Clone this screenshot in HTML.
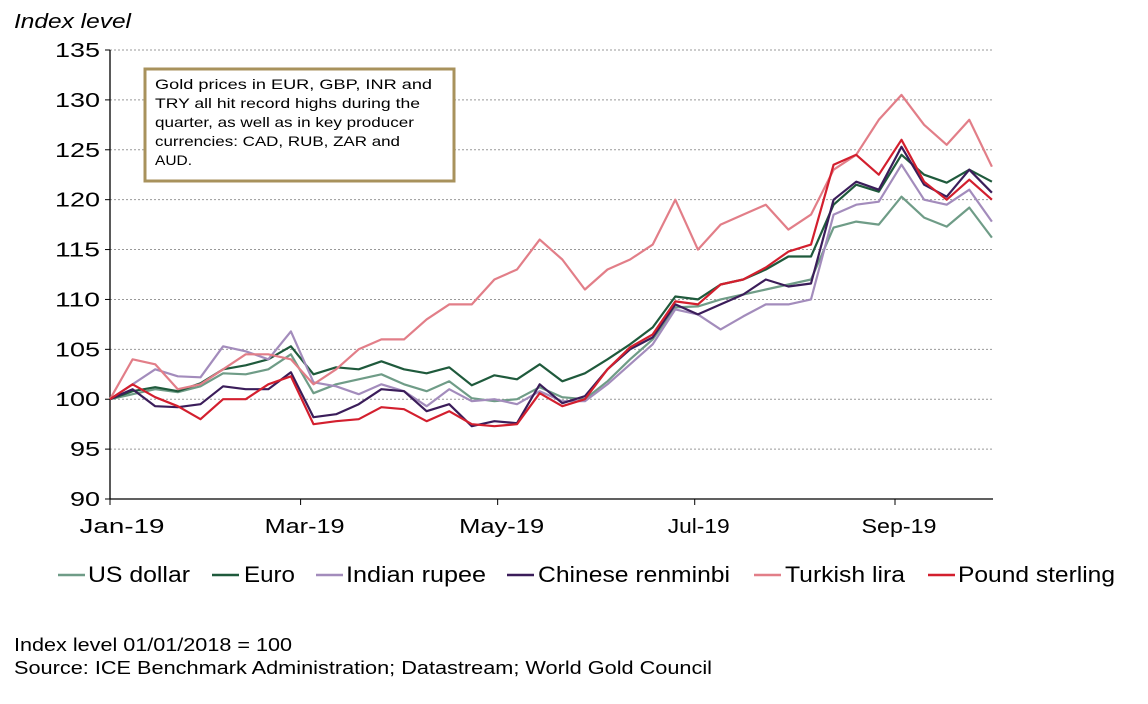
<!DOCTYPE html>
<html><head><meta charset="utf-8"><style>
body{margin:0;background:#fff;width:1148px;height:704px;overflow:hidden;font-family:"Liberation Sans",Arial,sans-serif}
svg{position:absolute;left:0;top:0}
text{font-family:"Liberation Sans",Arial,sans-serif}
</style></head><body>
<svg id="chart" width="1148" height="704" viewBox="0 0 1148 704">
<text x="14" y="28" font-size="20" font-style="italic" fill="#000" textLength="117" lengthAdjust="spacingAndGlyphs">Index level</text>
<g id="grid"></g><g id="axes"></g><g id="series"></g>
<g>
<rect x="145" y="69" width="309" height="112" fill="#fff" stroke="#a8925c" stroke-width="3"/>
<text font-size="14" fill="#000" lengthAdjust="spacingAndGlyphs"><tspan x="155" y="89" textLength="277" lengthAdjust="spacingAndGlyphs">Gold prices in EUR, GBP, INR and</tspan><tspan x="155" y="108" textLength="265" lengthAdjust="spacingAndGlyphs">TRY all hit record highs during the</tspan><tspan x="155" y="127" textLength="259" lengthAdjust="spacingAndGlyphs">quarter, as well as in key producer</tspan><tspan x="155" y="146" textLength="245" lengthAdjust="spacingAndGlyphs">currencies: CAD, RUB, ZAR and</tspan><tspan x="155" y="165" textLength="37" lengthAdjust="spacingAndGlyphs">AUD.</tspan></text>
</g>
<g id="legend"></g>
<text x="14" y="651" font-size="18" fill="#000" textLength="278" lengthAdjust="spacingAndGlyphs">Index level 01/01/2018 = 100</text>
<text x="14" y="674" font-size="18" fill="#000" textLength="698" lengthAdjust="spacingAndGlyphs">Source: ICE Benchmark Administration; Datastream; World Gold Council</text>
</svg>
<script>
const days=[0,7,14,21,28,35,42,49,56,63,70,77,84,91,98,105,112,119,126,133,140,147,154,161,168,175,182,189,196,203,210,217,224,231,238,245,252,259,266,273];
const yTicks=[90,95,100,105,110,115,120,125,130,135];
const xTickLabels=["Jan-19","Mar-19","May-19","Jul-19","Sep-19"];
const xTickDays=[0,59,120,181,243];
const seriesNames=["US dollar","Euro","Indian rupee","Chinese renminbi","Turkish lira","Pound sterling"];
const usd=[100,100.5,101,100.7,101.3,102.6,102.5,103,104.5,100.6,101.5,102,102.5,101.5,100.8,101.8,100.1,99.8,100,101.2,100.2,100,101.8,104,106,109.2,109.3,110,110.5,111,111.5,112,117.2,117.8,117.5,120.3,118.2,117.3,119.2,116.2];
const eur=[100,100.8,101.2,100.8,101.6,103,103.4,104,105.3,102.5,103.2,103,103.8,103,102.6,103.2,101.4,102.4,102,103.5,101.8,102.6,104,105.5,107.2,110.3,110,111.5,112,113,114.3,114.3,119.5,121.5,120.8,124.5,122.5,121.7,123,121.8];
const inr=[100,101.5,103,102.3,102.2,105.3,104.8,104,106.8,101.7,101.3,100.5,101.5,100.8,99.3,101,99.8,100,99.5,100.8,99.8,99.8,101.5,103.5,105.5,109,108.5,107,108.3,109.5,109.5,110,118.5,119.5,119.8,123.5,120,119.5,121,117.8];
const cny=[100,101,99.3,99.2,99.5,101.3,101,101,102.7,98.2,98.5,99.5,101,100.8,98.8,99.5,97.3,97.8,97.6,101.5,99.6,100.3,103,105,106.2,109.5,108.5,109.5,110.5,112,111.3,111.6,120,121.8,121,125.3,121.5,120.3,123,120.7];
const tryl=[100,104,103.5,101,101.5,103,104.5,104.5,104,101.5,103,105,106,106,108,109.5,109.5,112,113,116,114,111,113,114,115.5,120,115,117.5,118.5,119.5,117,118.5,123,124.5,128,130.5,127.5,125.5,128,123.3];
const gbp=[100,101.5,100.2,99.3,98,100,100,101.5,102.3,97.5,97.8,98,99.2,99,97.8,98.8,97.5,97.3,97.5,100.6,99.3,100,103,105.2,106.5,109.8,109.5,111.5,112,113.2,114.8,115.5,123.5,124.5,122.5,126,121.8,120,122,120];
const colors=["#6f9c87","#1f5a3c","#a38cbc","#3b1d5a","#e27e88","#d31f2e"];
const allSeries=[usd,eur,inr,cny,tryl,gbp];
const NS="http://www.w3.org/2000/svg";
const X0=110,X1=993,Y0=499,Y1=50;
const xs=d=>X0+(d/243)*(895-X0);
const ys=v=>Y0-(v-90)/45*(Y0-Y1);
function mk(tag,attrs,parent){const e=document.createElementNS(NS,tag);for(const k in attrs)e.setAttribute(k,attrs[k]);parent.appendChild(e);return e;}
const grid=document.getElementById('grid'),axes=document.getElementById('axes'),ser=document.getElementById('series'),leg=document.getElementById('legend');
yTicks.forEach(v=>{
 if(v>90){const l=mk('line',{x1:X0,x2:X1,y1:ys(v),y2:ys(v),stroke:'#999','stroke-width':1,'stroke-dasharray':'2,2'},grid);
 
 }
 mk('line',{x1:X0-5,x2:X0,y1:ys(v),y2:ys(v),stroke:'#000','stroke-width':1},axes);
 const w=String(v).length*15;
 const t=mk('text',{x:X0-10,y:ys(v)+7,'text-anchor':'end','font-size':20,fill:'#000',textLength:w,lengthAdjust:'spacingAndGlyphs'},axes);t.textContent=v;
 
 
});
const ya=mk('line',{x1:X0,x2:X0,y1:Y1,y2:Y0,stroke:'#000','stroke-width':1.3},axes);


const xa=mk('line',{x1:X0,x2:X1,y1:Y0,y2:Y0,stroke:'#000','stroke-width':1.3},axes);


const xLabW=[85,80,85,62,75];
xTickDays.forEach((d,i)=>{
 mk('line',{x1:xs(d),x2:xs(d),y1:Y0,y2:Y0+6,stroke:'#000','stroke-width':1},axes);
 const cx=i===0?122:xs(d)+4;
 const t=mk('text',{x:cx-xLabW[i]/2,y:Y0+34,'font-size':20,fill:'#000',textLength:xLabW[i],lengthAdjust:'spacingAndGlyphs'},axes);t.textContent=xTickLabels[i];
 
 
});
allSeries.forEach((vals,i)=>{
 const p=mk('polyline',{points:vals.map((v,j)=>xs(days[j]).toFixed(1)+','+ys(v).toFixed(1)).join(' '),fill:'none',stroke:colors[i],'stroke-width':2.2,'stroke-linejoin':'round'},ser);
 
 
});
const legX=[58,212,316,507,754,928];
const legTX=[88,244,346,538,785,958];
const legTW=[102,51,140,192,120,157];
seriesNames.forEach((n,i)=>{
 const g=mk('g',{},leg);
 
 
 mk('line',{x1:legX[i],x2:legX[i]+27,y1:575,y2:575,stroke:colors[i],'stroke-width':2.5},g);
 const t=mk('text',{x:legTX[i],y:582,'font-size':22,fill:'#000',textLength:legTW[i],lengthAdjust:'spacingAndGlyphs'},g);t.textContent=n;
});
</script>
</body></html>
